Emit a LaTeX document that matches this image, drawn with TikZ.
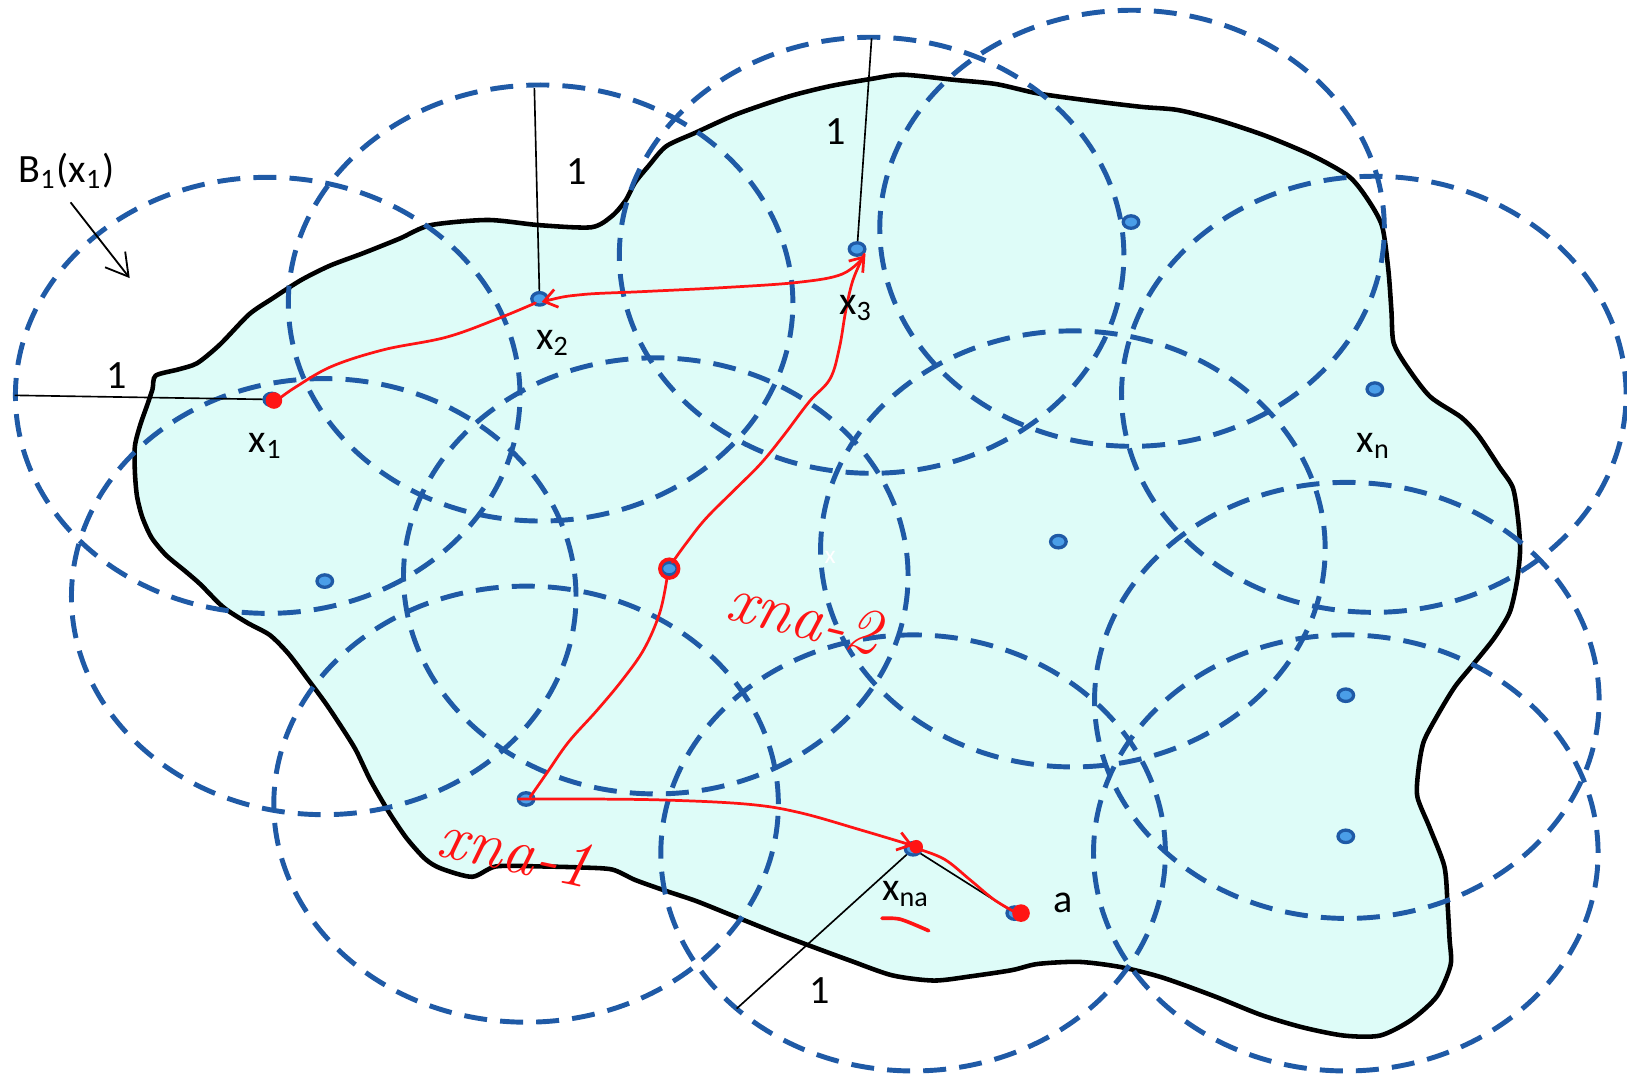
\documentclass[tikz,border=0pt]{standalone}
\usepackage{fontspec}
\setmainfont{Carlito}
\newfontfamily\hand{Latin Modern Roman}
\usetikzlibrary{arrows.meta}
\definecolor{ballblue}{RGB}{31,90,166}
\definecolor{dotfill}{RGB}{74,158,232}
\definecolor{regionfill}{RGB}{222,252,248}
\definecolor{pathred}{RGB}{255,20,20}
\tikzset{
  ball/.style={draw=ballblue, line width=1.35pt, dash pattern=on 6.3pt off 3.6pt},
  centerdot/.style={draw=ballblue, fill=dotfill, line width=0.9pt},
  radline/.style={draw=black, line width=0.45pt},
  redpath/.style={draw=pathred, line width=0.75pt, line cap=round, line join=round},
  lbl/.style={font=\fontsize{11}{13}\selectfont, inner sep=0pt},
  handlbl/.style={text=pathred, font=\hand\itshape\fontsize{18}{18}\selectfont, inner sep=0pt}
}
\begin{document}
\begin{tikzpicture}[x=0.01cm,y=-0.01cm]
\useasboundingbox (0,0) rectangle (1568,1039);
\def\regionpts{(150,362) (172,356) (190,350) (212,332) (240,303) (262,288) (290,270) (318,256) (350,244) (385,230) (415,217) (470,212) (520,217) (570,219) (590,208) (603,193) (612,176) (625,160) (642,141) (670,128) (710,110) (760,93) (800,83) (840,76) (870,72) (920,77) (960,81) (1000,90) (1050,97) (1100,103) (1135,106) (1175,116) (1220,131) (1265,150) (1300,170) (1318,192) (1332,218) (1338,260) (1341,300) (1343,330) (1355,352) (1378,382) (1408,402) (1425,420) (1445,450) (1458,470) (1463,500) (1465,530) (1462,560) (1455,590) (1440,615) (1420,640) (1402,662) (1385,690) (1372,715) (1367,742) (1366,768) (1378,798) (1392,835) (1395,870) (1397,905) (1398,930) (1385,960) (1360,983) (1330,998) (1295,998) (1255,990) (1215,978) (1170,960) (1120,942) (1080,932) (1040,927) (1000,929) (975,935) (935,941) (900,945) (860,940) (820,926) (790,915) (750,900) (720,888) (700,880) (670,868) (640,858) (612,848) (590,838) (560,836) (520,835) (478,835) (455,845) (425,837) (410,828) (392,808) (375,783) (357,752) (343,723) (330,702) (314,678) (297,655) (278,630) (260,612) (238,600) (215,585) (193,563) (178,550) (160,535) (146,518) (137,498) (132,478) (130,455) (130,430) (135,410) (142,390) (147,375)}
% region
\path[fill=regionfill] plot[smooth cycle, tension=0.45] coordinates {\regionpts};
\draw[line width=1.25pt, line join=round] plot[smooth cycle, tension=0.45] coordinates {\regionpts};
% balls
\foreach \cx/\cy in {258/381, 521/292, 840/246, 1091/220, 1324/380, 312/575, 632/555, 1034/529, 507/775, 880/822, 1298/675, 1297/822}
  \draw[ball] (\cx,\cy) ellipse [x radius=2.43cm, y radius=2.10cm];
% centres
\coordinate (c1) at (262,385);
\coordinate (c2) at (520,288);
\coordinate (c3) at (826,240);
\coordinate (c4) at (1090,214);
\coordinate (cn) at (1325,375);
\coordinate (c6) at (313,560);
\coordinate (c7) at (645,548);
\coordinate (c8) at (1020,522);
\coordinate (c9) at (1297,670);
\coordinate (c10) at (1297,806);
\coordinate (cm1) at (507,770);
\coordinate (cna) at (880,818);
\coordinate (ca) at (978,880);
% radius lines
\coordinate (r1) at (14,381);
\coordinate (r2) at (515,85);
\coordinate (r3) at (840,37);
\coordinate (r4) at (710,972);
\draw[radline] (r1) -- (c1);
\draw[radline] (r2) -- (c2);
\draw[radline] (r3) -- (c3);
\draw[radline] (r4) -- (cna) -- (ca);
\foreach \p in {c1,c2,c3,c4,cn,c6,c7,c8,c9,c10,cm1,cna,ca}
  \draw[centerdot] (\p) ellipse [x radius=0.075cm, y radius=0.06cm];
% B1 arrow
\coordinate (b1) at (68,195);
\coordinate (b2) at (125,268);
\draw[line width=0.5pt, -{Straight Barb[length=6pt,width=7pt]}] (b1) -- (b2);
% red path
\draw[redpath] plot[smooth, tension=0.6] coordinates {(268,385)(285,373)(320,353)(370,337)(430,325)(480,307)(516,292)};
\draw[redpath, {Straight Barb[length=3.5pt,width=5pt]}-{Straight Barb[length=3.5pt,width=5pt]}] plot[smooth, tension=0.6] coordinates {(522,291)(560,284)(620,281)(700,277)(770,272)(812,264)(834,246)};
\draw[redpath] plot[smooth, tension=0.6] coordinates {(833,245)(822,270)(815,300)(809,335)(800,365)(780,387)(755,420)(733,447)(708,472)(680,500)(661,524)(648,542)};
\draw[redpath] plot[smooth, tension=0.6] coordinates {(643,556)(636,590)(621,625)(600,655)(575,685)(548,715)(527,745)(511,768)};
\draw[redpath, -{Straight Barb[length=3.5pt,width=5pt]}] plot[smooth, tension=0.6] coordinates {(500,770)(560,770)(640,771)(720,775)(770,783)(830,800)(880,815)};
\draw[redpath] plot[smooth, tension=0.6] coordinates {(884,818)(910,828)(935,848)(958,867)(980,880)};
% red blobs
\fill[pathred] (264,386) circle [radius=0.08cm];
\draw[redpath, line width=1pt] (645,548) circle [radius=0.09cm];
\fill[pathred] (883,816) circle [radius=0.065cm];
\fill[pathred] (984,880) circle [radius=0.085cm];
\draw[redpath, line width=1pt] plot[smooth] coordinates {(850,885)(868,886)(895,897)};
% labels
\node[lbl] (tB) at (64,165) {B\textsubscript{1}(x\textsubscript{1})};
\node[lbl] (t1a) at (112,362) {1};
\node[lbl] (t1b) at (556,165) {1};
\node[lbl] (t1c) at (805,127) {1};
\node[lbl] (t1d) at (790,955) {1};
\node[lbl] (tx1) at (256,430) {x\textsubscript{1}};
\node[lbl] (tx2) at (533,330) {x\textsubscript{2}};
\node[lbl] (tx3) at (825,297) {x\textsubscript{3}};
\node[lbl] (txn) at (1324,430) {x\textsubscript{n}};
\node[lbl] (txna) at (873,862) {x\textsubscript{na}};
\node[lbl] (ta) at (1025,870) {a};
\node[text=white, font=\fontsize{7}{8}\selectfont, inner sep=0pt] (tw) at (800,537) {x};
\node[handlbl, rotate=-14] (hn2) at (775,594) {xna-2};
\node[handlbl, rotate=-12] (hn1) at (497,820) {xna-1};
\end{tikzpicture}
\end{document}
